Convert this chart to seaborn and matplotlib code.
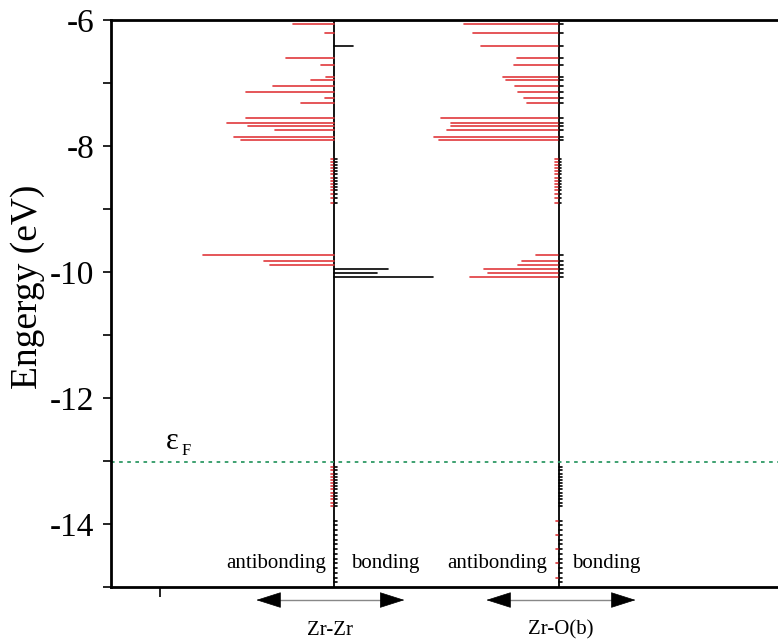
import numpy as np
import pandas as pd
import seaborn as sns
import matplotlib.pyplot as plt
import matplotlib.transforms as mtransforms

sns.set_theme(style="ticks")
plt.rcParams['font.family'] = ['Liberation Serif', 'DejaVu Serif']
plt.rcParams['axes.unicode_minus'] = False
for k in ('text.color', 'axes.labelcolor', 'xtick.color', 'ytick.color'):
    plt.rcParams[k] = 'black'

# COOP levels (energy in eV, magnitude in arbitrary units)
zrzr_anti_E = [-6.07, -6.20, -6.61, -6.71, -6.91, -6.96, -7.04, -7.15, -7.24, -7.31,
               -7.55, -7.63, -7.69, -7.75, -7.85, -7.91, -9.73, -9.83, -9.89]
zrzr_anti_v = [0.37, 0.08, 0.43, 0.12, 0.07, 0.21, 0.55, 0.79, 0.08, 0.30,
               0.79, 0.96, 0.77, 0.53, 0.89, 0.83, 1.17, 0.63, 0.57]
zrzr_bond_E = [-6.41, -9.96, -10.02, -10.08]
zrzr_bond_v = [0.17, 0.48, 0.38, 0.88]

zro_anti_E = [-6.07, -6.20, -6.41, -6.61, -6.71, -6.91, -6.96, -7.04, -7.15, -7.24, -7.31,
              -7.55, -7.63, -7.69, -7.75, -7.85, -7.91,
              -9.73, -9.83, -9.89, -9.95, -10.02, -10.08]
zro_anti_v = [0.84, 0.76, 0.69, 0.37, 0.40, 0.50, 0.47, 0.39, 0.36, 0.31, 0.28,
              1.05, 0.96, 0.96, 1.00, 1.11, 1.07,
              0.20, 0.33, 0.36, 0.67, 0.63, 0.79]

# tiny contributions (small ticks on the baselines)
small_E_mid = [-8.20, -8.25, -8.30, -8.35, -8.40, -8.45, -8.50, -8.55, -8.60, -8.65,
               -8.70, -8.76, -8.82, -8.90]
small_E_low1 = [-13.10, -13.15, -13.20, -13.25, -13.30, -13.35, -13.40, -13.45, -13.50,
                -13.55, -13.60, -13.66, -13.72]
small_E_low2 = [-13.95, -14.02, -14.10, -14.18, -14.25, -14.32, -14.40, -14.48, -14.55,
                -14.62, -14.70, -14.78, -14.85, -14.92]

fermi = -13.02
bases = {"Zr-Zr": 0.0, "Zr-O(b)": 2.0}

red = "#e0383c"
rows = []
seg = 0


def add(base, E, v, kind):
    global seg
    for e, val in zip(E, v):
        rows.append(dict(E=e, x=base, seg=seg, kind=kind))
        rows.append(dict(E=e, x=base + val, seg=seg, kind=kind))
        seg += 1


b1, b2 = bases["Zr-Zr"], bases["Zr-O(b)"]
add(b1, zrzr_anti_E, [-v for v in zrzr_anti_v], "anti")
add(b1, zrzr_bond_E, zrzr_bond_v, "bond")
add(b2, zro_anti_E, [-v for v in zro_anti_v], "anti")
add(b2, zro_anti_E, [0.04] * len(zro_anti_E), "bond")
for b in (b1, b2):
    add(b, small_E_mid, [-0.03] * len(small_E_mid), "anti")
    add(b, small_E_mid, [0.02] * len(small_E_mid), "bond")
add(b1, small_E_low1, [-0.03] * len(small_E_low1), "anti")
add(b1, small_E_low1 + small_E_low2, [0.02] * (len(small_E_low1) + len(small_E_low2)), "bond")
add(b2, small_E_low1 + small_E_low2, [0.03] * (len(small_E_low1) + len(small_E_low2)), "bond")
add(b2, small_E_low2[::3], [-0.02] * len(small_E_low2[::3]), "anti")
df = pd.DataFrame(rows)

fig = plt.figure(figsize=(7.78, 6.41), dpi=100)
ax = fig.add_axes([111 / 778, 54 / 641, 671 / 778, 567 / 641])

sns.lineplot(data=df, x="x", y="E", units="seg", estimator=None, sort=False,
             hue="kind", palette={"anti": red, "bond": "black"}, lw=1.2,
             legend=False, ax=ax)

for b in (b1, b2):
    ax.axvline(b, color="black", lw=1.3, zorder=1)
ax.axhline(fermi, color="#2f9a66", lw=1.3, ls=(0, (2, 2.5)))
ax.text(-1.50, fermi + 0.1, "ε", fontsize=22, va="bottom")
ax.text(-1.36, fermi + 0.05, "F", fontsize=12, va="bottom")

ax.set_xlim(-1.99, 3.99)
ax.set_ylim(-15, -6)
ax.set_yticks([-6, -8, -10, -12, -14])
ax.set_yticks([-7, -9, -11, -13, -15], minor=True)
ax.set_xticks([-1.55])
ax.set_xticklabels([])
ax.set_xlabel("")
ax.set_ylabel("Engergy (eV)", fontsize=27)
ax.yaxis.set_label_coords(-0.098, 0.53)
ax.tick_params(axis="y", labelsize=24, length=6, width=1.2, pad=6)
ax.tick_params(axis="y", which="minor", length=6, width=1.2)
ax.tick_params(axis="x", length=7, width=1.2)
for s in ax.spines.values():
    s.set_linewidth(2)
    s.set_color("black")

ty = -14.63
ax.text(-0.07, ty, "antibonding", ha="right", va="center", fontsize=15)
ax.text(0.15, ty, "bonding", ha="left", va="center", fontsize=15)
ax.text(1.90, ty, "antibonding", ha="right", va="center", fontsize=15)
ax.text(2.12, ty, "bonding", ha="left", va="center", fontsize=15)

trans = mtransforms.blended_transform_factory(ax.transData, ax.transAxes)
arrows = [("Zr-Zr", -0.72, 0.65), ("Zr-O(b)", 1.33, 2.71)]
for name, x0, x1 in arrows:
    ay = -0.023
    ax.plot([x0 + 0.1, x1 - 0.1], [ay, ay], color="#888888", lw=1.0,
            transform=trans, clip_on=False)
    for xa, xb in ((x0 + 0.18, x0), (x1 - 0.18, x1)):
        ax.annotate("", xy=(xb, ay), xytext=(xa, ay), xycoords=trans, textcoords=trans,
                    arrowprops=dict(arrowstyle="-|>,head_length=1.1,head_width=0.35",
                                    color="black", lw=0.5, mutation_scale=15),
                    annotation_clip=False)
    ax.text((x0 + x1) / 2, -0.076, name, transform=trans, ha="center", va="center",
            fontsize=15)

fig.savefig("out.png", dpi=100)
